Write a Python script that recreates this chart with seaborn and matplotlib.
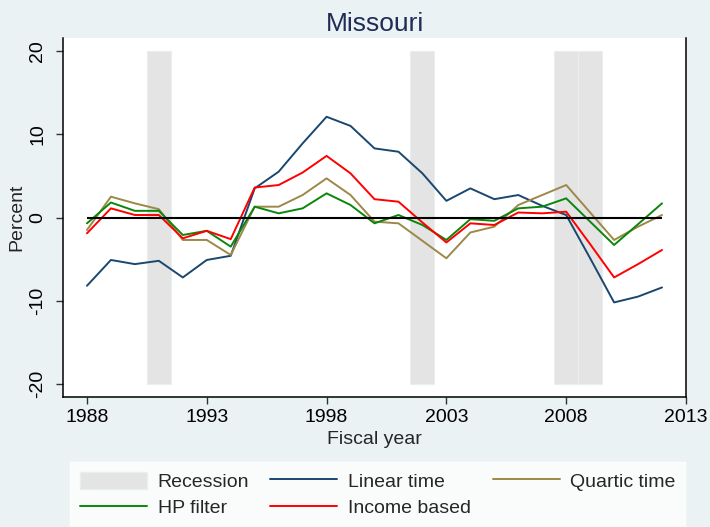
import pandas as pd
import seaborn as sns
import matplotlib.pyplot as plt
from matplotlib.patches import Patch
from matplotlib.lines import Line2D

years = list(range(1988, 2013))
linear_time = [-8.2, -5.1, -5.6, -5.2, -7.2, -5.1, -4.6, 3.5, 5.5, 8.9, 12.1, 11.0, 8.3,
               7.9, 5.3, 2.0, 3.5, 2.2, 2.7, 1.4, 0.3, -4.9, -10.2, -9.5, -8.4]
quartic_time = [-1.5, 2.5, 1.7, 1.0, -2.7, -2.7, -4.5, 1.3, 1.3, 2.7, 4.7, 2.7, -0.5,
                -0.7, -2.8, -4.9, -1.8, -1.1, 1.5, 2.7, 3.9, 0.6, -2.7, -1.1, 0.3]
hp_filter = [-0.7, 1.8, 0.8, 0.8, -2.1, -1.6, -3.5, 1.3, 0.5, 1.1, 2.9, 1.5, -0.7,
             0.3, -0.9, -2.7, -0.2, -0.4, 1.1, 1.3, 2.3, -0.5, -3.3, -0.8, 1.7]
income_based = [-1.9, 1.1, 0.3, 0.3, -2.5, -1.6, -2.6, 3.6, 3.9, 5.4, 7.4, 5.3, 2.2,
                1.9, -0.6, -3.0, -0.7, -0.9, 0.6, 0.5, 0.7, -3.2, -7.2, -5.6, -3.9]
recession_years = [1991, 2002, 2008, 2009]

series_names = ["Linear time", "Quartic time", "HP filter", "Income based"]
colors = {"Linear time": "#1a476f", "Quartic time": "#9c8847",
          "HP filter": "#0a870a", "Income based": "#ff0000"}

df = pd.DataFrame({
    "year": years * 4,
    "value": linear_time + quartic_time + hp_filter + income_based,
    "series": sum([[s] * len(years) for s in series_names], []),
})

sns.set_style("white")
plt.rcParams['font.family'] = ['Liberation Sans', 'DejaVu Sans']

bg = "#eaf2f3"
fig = plt.figure(figsize=(7.1, 5.27), dpi=100, facecolor=bg)
ax = fig.add_axes([63 / 710, 1 - 397 / 527, (686 - 63) / 710, (397 - 38) / 527])
ax.set_facecolor("white")

# recession shading
ax.bar(recession_years, 40, bottom=-20, width=1, color="#e4e4e4",
       edgecolor="#e9eeee", linewidth=0.8, zorder=1)

sns.lineplot(data=df, x="year", y="value", hue="series", palette=colors,
             linewidth=1.4, legend=False, ax=ax, zorder=2)

ax.hlines(0, years[0], years[-1], color="black", linewidth=1.5, zorder=3)

ax.set_xlim(1987, 2013)
ax.set_ylim(-21.56, 21.56)
ax.set_xticks([1988, 1993, 1998, 2003, 2008, 2013])
ax.set_yticks([-20, -10, 0, 10, 20])
ax.set_yticklabels(["-20", "-10", "0", "10", "20"], rotation=90, va="center")
ax.tick_params(axis="both", direction="out", length=5, width=1, color="#333333",
               labelsize=14, labelcolor="black")
ax.tick_params(axis="x", pad=3.5, bottom=True)
ax.tick_params(axis="y", pad=7, left=True)

for side in ["left", "bottom", "right"]:
    ax.spines[side].set_color("black")
    ax.spines[side].set_linewidth(1.1)
ax.spines["top"].set_visible(False)

ax.set_xlabel("Fiscal year", fontsize=14, labelpad=4)
ax.set_ylabel("Percent", fontsize=14, labelpad=3)
ax.set_title("Missouri", fontsize=19, color="#1f2c57", pad=5)

handles = [
    Patch(facecolor="#e4e4e4", edgecolor="#e9eeee", label="Recession"),
    Line2D([], [], color=colors["HP filter"], lw=1.4, label="HP filter"),
    Line2D([], [], color=colors["Linear time"], lw=1.4, label="Linear time"),
    Line2D([], [], color=colors["Income based"], lw=1.4, label="Income based"),
    Line2D([], [], color=colors["Quartic time"], lw=1.4, label="Quartic time"),
]
leg = fig.legend(handles=handles, ncol=3, loc="upper left",
                 bbox_to_anchor=(70 / 710, 1 - 462 / 527), frameon=True,
                 fancybox=False, facecolor="white", edgecolor="white",
                 fontsize=14, handlelength=3.45, handleheight=1.0,
                 handletextpad=0.55, columnspacing=1.1, labelspacing=0.35,
                 borderpad=0.5, borderaxespad=0)

plt.savefig("out.png", dpi=100, facecolor=bg)
